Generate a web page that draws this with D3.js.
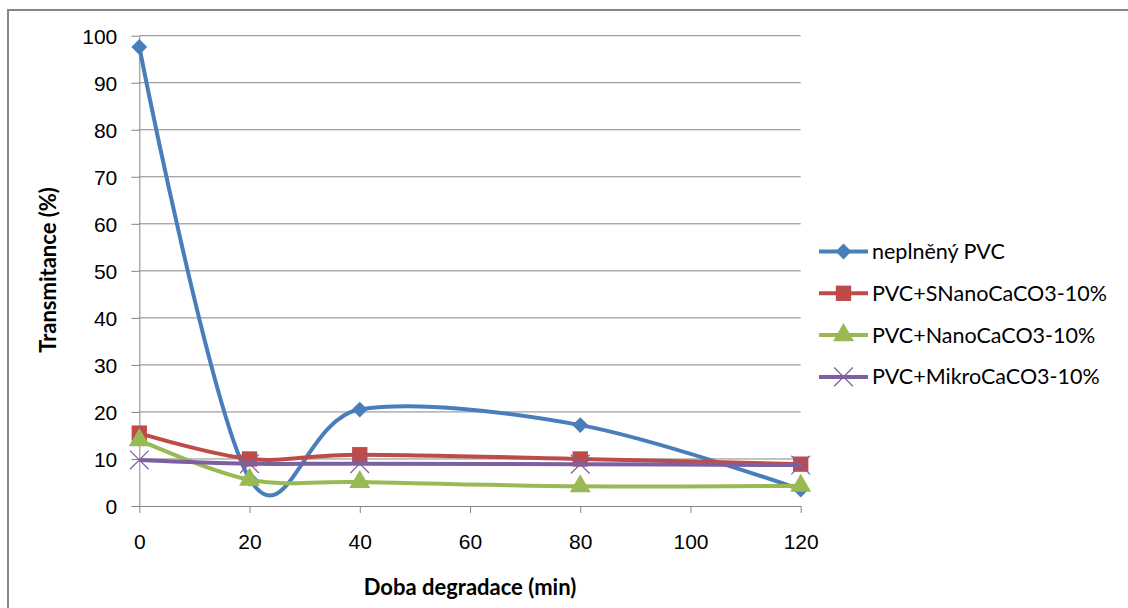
<!doctype html>
<html lang="cs">
<head>
<meta charset="utf-8">
<title>Transmitance</title>
<script src="https://cdn.jsdelivr.net/npm/d3@7"></script>
<style>
  body { margin: 0; background: #fff; }
  svg { display: block; font-family: Lato, "Liberation Sans", sans-serif; }
  .axis text { font-size: 21px; fill: #000; }
  .axis path, .axis line { stroke: #868686; }
</style>
</head>
<body>
<svg width="1128" height="608"></svg>
<script>
// data
var times = [0, 20, 40, 80, 120];
var seriesNames = ["neplněný PVC", "PVC+SNanoCaCO3-10%", "PVC+NanoCaCO3-10%", "PVC+MikroCaCO3-10%"];
var neplneny = [97.6, 5.8, 20.5, 17.2, 3.5];
var sNano = [15.5, 10.0, 10.9, 10.0, 8.9];
var nano = [14.0, 5.6, 5.1, 4.2, 4.3];
var mikro = [9.8, 9.0, 9.0, 8.9, 8.7];
var xTicks = [0, 20, 40, 60, 80, 100, 120];
var yTicks = [0, 10, 20, 30, 40, 50, 60, 70, 80, 90, 100];

var colors = ["#4a7ebb", "#be4b48", "#98b954", "#7d60a0"];
var markers = ["diamond", "square", "triangle", "cross"];
var allValues = [neplneny, sNano, nano, mikro];

var svg = d3.select("svg");

// outer chart border (right and bottom run off the picture)
svg.append("rect")
    .attr("x", 8).attr("y", 10)
    .attr("width", 1140).attr("height", 620)
    .attr("fill", "none")
    .attr("stroke", "#868686")
    .attr("stroke-width", 2);

var x = d3.scaleLinear().domain([0, 120]).range([139.3, 800.7]);
var y = d3.scaleLinear().domain([0, 100]).range([506, 35.7]);

// horizontal gridlines
svg.append("g")
    .selectAll("line")
    .data(yTicks.slice(1))
    .enter()
    .append("line")
    .attr("x1", x(0)).attr("x2", x(120))
    .attr("y1", function (d) { return y(d); })
    .attr("y2", function (d) { return y(d); })
    .attr("stroke", "#868686")
    .attr("stroke-width", 1);

// y-axis
svg.append("g")
    .attr("class", "axis")
    .attr("transform", "translate(" + x(0) + ",0)")
    .call(d3.axisLeft(y).tickValues(yTicks).tickSize(8).tickSizeOuter(0).tickPadding(14))
    .call(function (g) { g.selectAll("text").attr("dy", "0.35em"); });

// x-axis
svg.append("g")
    .attr("class", "axis")
    .attr("transform", "translate(0," + y(0) + ")")
    .call(d3.axisBottom(x).tickValues(xTicks).tickSize(7).tickSizeOuter(0).tickPadding(21));

// axis titles
svg.append("text")
    .attr("transform", "translate(56,270) rotate(-90)")
    .attr("text-anchor", "middle")
    .attr("font-size", "22px")
    .attr("font-weight", "bold")
    .text("Transmitance (%)");

svg.append("text")
    .attr("x", 470).attr("y", 595)
    .attr("text-anchor", "middle")
    .attr("font-size", "22px")
    .attr("font-weight", "bold")
    .text("Doba degradace (min)");

function markerPath(type) {
    if (type === "diamond") return d3.symbol().type(d3.symbolDiamond2).size(160)();
    if (type === "square") return d3.symbol().type(d3.symbolSquare).size(235)();
    if (type === "triangle") return d3.symbol().type(d3.symbolTriangle).size(190)();
    return d3.symbol().type(d3.symbolX).size(230)();
}

function drawMarker(sel, type, color) {
    sel.attr("d", markerPath(type))
        .attr("fill", type === "cross" ? "none" : color)
        .attr("stroke", color)
        .attr("stroke-width", type === "cross" ? 1.2 : 0);
}

var line = d3.line()
    .x(function (d) { return x(d[0]); })
    .y(function (d) { return y(d[1]); })
    .curve(d3.curveCardinal.tension(0));

var series = seriesNames.map(function (name, i) {
    return { name: name, color: colors[i], marker: markers[i],
        points: times.map(function (t, j) { return [t, allValues[i][j]]; }) };
});

var sg = svg.append("g")
    .selectAll("g")
    .data(series)
    .enter()
    .append("g");

sg.append("path")
    .attr("d", function (d) { return line(d.points); })
    .attr("fill", "none")
    .attr("stroke", function (d) { return d.color; })
    .attr("stroke-width", 4)
    .attr("stroke-linejoin", "round");

sg.each(function (s) {
    d3.select(this).selectAll("path.mk")
        .data(s.points)
        .enter()
        .append("path")
        .attr("class", "mk")
        .attr("transform", function (d) { return "translate(" + x(d[0]) + "," + y(d[1]) + ")"; })
        .call(drawMarker, s.marker, s.color);
});

// legend
var legend = svg.append("g")
    .selectAll("g")
    .data(series)
    .enter()
    .append("g")
    .attr("transform", function (d, i) { return "translate(819," + (251.5 + i * 41.8) + ")"; });

legend.append("line")
    .attr("x1", 0).attr("x2", 49)
    .attr("stroke", function (d) { return d.color; })
    .attr("stroke-width", 4);

legend.append("path")
    .attr("transform", "translate(24.5,0)")
    .each(function (d) { d3.select(this).call(drawMarker, d.marker, d.color); });

legend.append("text")
    .attr("x", 53)
    .attr("dy", "0.35em")
    .attr("font-size", "21.5px")
    .text(function (d) { return d.name; });
</script>
</body>
</html>
